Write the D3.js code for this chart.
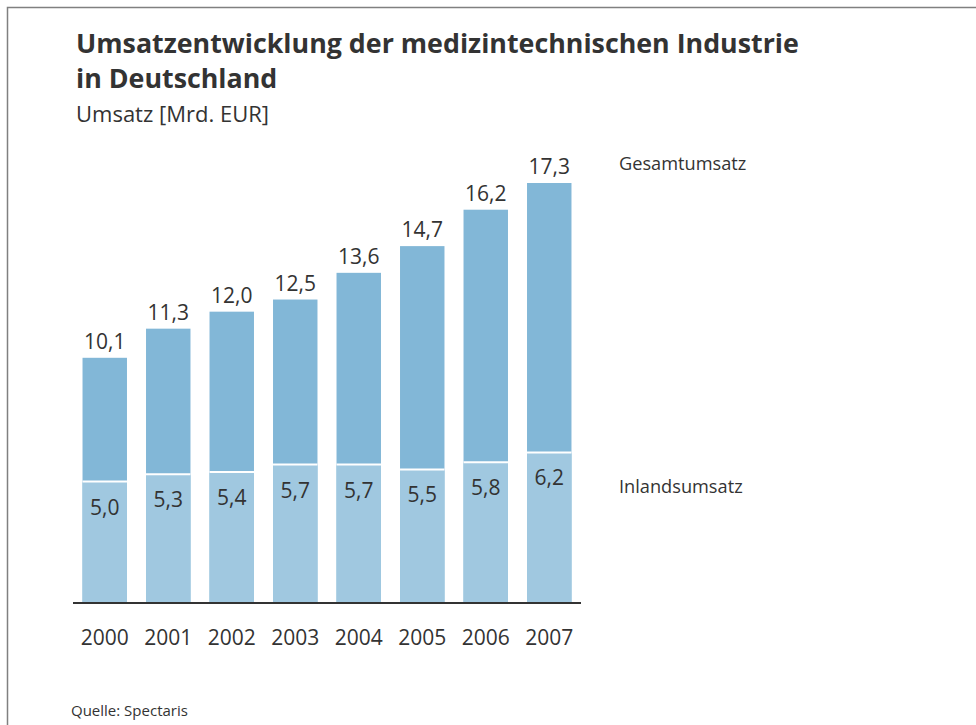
<!DOCTYPE html>
<html>
<head>
<meta charset="utf-8">
<script src="https://cdn.jsdelivr.net/npm/d3@7"></script>
<style>
  body { margin: 0; background: #fff; }
  svg { display: block; font-family: "Open Sans", sans-serif; }
</style>
</head>
<body>
<div id="chart"></div>
<script>
// data
const years = ["2000", "2001", "2002", "2003", "2004", "2005", "2006", "2007"];
const gesamt = [10.1, 11.3, 12.0, 12.5, 13.6, 14.7, 16.2, 17.3];
const inland = [5.0, 5.3, 5.4, 5.7, 5.7, 5.5, 5.8, 6.2];
const seriesNames = ["Gesamtumsatz", "Inlandsumsatz"];

const width = 976;
const height = 725;
const marginLeft = 73;
const axisRight = 581;
const baseY = 603;
const topY = 183;

const fmt = v => v.toFixed(1).replace(".", ",");

const rows = years.map((y, i) => ({ year: y, total: gesamt[i], inland: inland[i] }));

const svg = d3.select("#chart").append("svg")
    .attr("width", width)
    .attr("height", height)
    .attr("viewBox", [0, 0, width, height]);

// frame (only top + left edges visible)
svg.append("path")
    .attr("d", `M7.5,${height} V7.5 H${width}`)
    .attr("fill", "none")
    .attr("stroke", "#808080")
    .attr("stroke-width", 1.5);

// titles
svg.append("text")
    .attr("x", 76).attr("y", 53)
    .attr("font-size", 26.8).attr("font-weight", "bold").attr("fill", "#333")
    .text("Umsatzentwicklung der medizintechnischen Industrie");
svg.append("text")
    .attr("x", 76).attr("y", 88)
    .attr("font-size", 26.8).attr("font-weight", "bold").attr("fill", "#333")
    .text("in Deutschland");
svg.append("text")
    .attr("x", 76).attr("y", 122)
    .attr("font-size", 22).attr("fill", "#333")
    .text("Umsatz [Mrd. EUR]");

// scales
const x = d3.scaleBand()
    .domain(years)
    .range([marginLeft, axisRight])
    .paddingInner(0.3)
    .paddingOuter(0.15);

const y = d3.scaleLinear()
    .domain([0, d3.max(gesamt)])
    .range([baseY, topY]);

// total bars (full height, inland drawn over them)
svg.append("g")
    .selectAll("rect")
    .data(rows)
    .join("rect")
    .attr("x", d => x(d.year))
    .attr("y", d => y(d.total))
    .attr("width", x.bandwidth())
    .attr("height", d => y(0) - y(d.total))
    .attr("fill", "#82b7d7");

svg.append("g")
    .selectAll("rect")
    .data(rows)
    .join("rect")
    .attr("x", d => x(d.year))
    .attr("y", d => y(d.inland))
    .attr("width", x.bandwidth())
    .attr("height", d => y(0) - y(d.inland))
    .attr("fill", "#a0c8e0");

// white separator
svg.append("g")
    .selectAll("line")
    .data(rows)
    .join("line")
    .attr("x1", d => x(d.year))
    .attr("x2", d => x(d.year) + x.bandwidth())
    .attr("y1", d => y(d.inland))
    .attr("y2", d => y(d.inland))
    .attr("stroke", "#fff")
    .attr("stroke-width", 2);

// value labels
svg.append("g")
    .attr("font-size", 21).attr("fill", "#333").attr("text-anchor", "middle")
    .selectAll("text")
    .data(rows)
    .join("text")
    .attr("x", d => x(d.year) + x.bandwidth() / 2)
    .attr("y", d => y(d.total) - 9)
    .text(d => fmt(d.total));

svg.append("g")
    .attr("font-size", 21).attr("fill", "#333").attr("text-anchor", "middle")
    .selectAll("text")
    .data(rows)
    .join("text")
    .attr("x", d => x(d.year) + x.bandwidth() / 2)
    .attr("y", d => y(d.inland) + 33)
    .text(d => fmt(d.inland));

// x axis
svg.append("g")
    .attr("transform", `translate(0,${baseY})`)
    .call(d3.axisBottom(x).tickSize(0).tickPadding(0).tickSizeOuter(0))
    .call(g => g.select(".domain").attr("stroke", "#333").attr("stroke-width", 2)
        .attr("d", `M${marginLeft},0H${axisRight}`))
    .call(g => g.selectAll(".tick text")
        .attr("font-family", "Open Sans, sans-serif")
        .attr("font-size", 21)
        .attr("fill", "#333")
        .attr("dy", 0)
        .attr("y", 42));

// series labels
svg.append("text")
    .attr("x", 619).attr("y", y(d3.max(gesamt)) - 13)
    .attr("font-size", 18.2).attr("fill", "#333")
    .text(seriesNames[0]);
svg.append("text")
    .attr("x", 619).attr("y", 493)
    .attr("font-size", 18.2).attr("fill", "#333")
    .text(seriesNames[1]);

// source
svg.append("text")
    .attr("x", 71).attr("y", 716)
    .attr("font-size", 15).attr("fill", "#333")
    .text("Quelle: Spectaris");
</script>
</body>
</html>
